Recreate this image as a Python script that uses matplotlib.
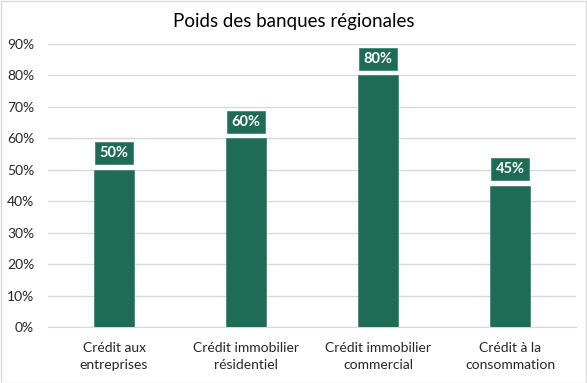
import matplotlib
matplotlib.use('Agg')
import matplotlib.pyplot as plt
from matplotlib.ticker import FuncFormatter, MultipleLocator
from matplotlib.patches import Rectangle

plt.rcParams['font.family'] = ['Lato', 'DejaVu Sans']

# données
categories = ['Crédit aux\nentreprises', 'Crédit immobilier\nrésidentiel',
              'Crédit immobilier\ncommercial', 'Crédit à la\nconsommation']
values = [0.50, 0.60, 0.80, 0.45]
title = 'Poids des banques régionales'

GREEN = '#1E6B56'
GRID = '#D9D9D9'
TXT = '#262626'

fig = plt.figure(figsize=(5.87, 3.83), dpi=100, facecolor='white')
fig.patches.append(Rectangle((0.001, 0.001), 0.997, 0.997, transform=fig.transFigure,
                             fill=False, edgecolor=GRID, linewidth=1))
ax = fig.add_axes([0.0818, 0.1462, 0.8995, 0.7388])

x = range(len(categories))
ax.bar(x, values, width=0.31, color=GREEN, edgecolor='#3E8A73', linewidth=0.6, zorder=3)

for xi, v in zip(x, values):
    ax.annotate(f'{v:.0%}', (xi, v), xytext=(0, 12), textcoords='offset points',
                ha='center', va='center', color='white', fontsize=10.5, fontweight='bold',
                bbox=dict(boxstyle='square,pad=0.28', facecolor=GREEN, edgecolor='#3E8A73',
                          linewidth=0.6), zorder=4)

ax.set_xlim(-0.5, len(categories) - 0.5)
ax.set_ylim(0, 0.9)
ax.yaxis.set_major_locator(MultipleLocator(0.1))
ax.yaxis.set_major_formatter(FuncFormatter(lambda v, _: f'{v:.0%}'))
ax.set_xticks(list(x))
ax.set_xticklabels(categories, fontsize=10, color=TXT, linespacing=1.5)
ax.tick_params(axis='y', labelsize=10, labelcolor=TXT, length=0, pad=10)
ax.tick_params(axis='x', length=0, pad=11)
ax.grid(axis='y', color=GRID, linewidth=1, zorder=0)
for s in ['top', 'right', 'left']:
    ax.spines[s].set_visible(False)
ax.spines['bottom'].set_color(GRID)

fig.text(0.5, 0.945, title, ha='center', va='center', fontsize=13.5, color='black')

fig.savefig('out.png', dpi=100, facecolor='white')
